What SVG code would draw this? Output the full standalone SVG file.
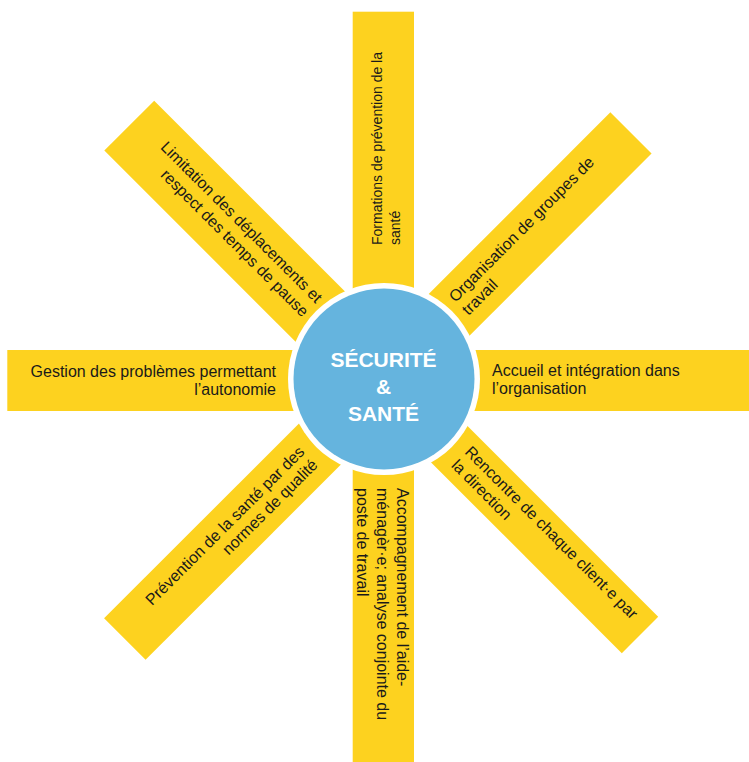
<svg xmlns="http://www.w3.org/2000/svg" width="749" height="762" viewBox="0 0 749 762">
  <style>
    .bar { fill: #FDD21F; }
    .lbl { font-family: "Liberation Sans", Arial, sans-serif; font-size: 16px; fill: #1A1A1A; }
    .end { text-anchor: end; }
    .ring { fill: #FFFFFF; }
    .hub { fill: #65B4DE; }
    .hub-lbl { font-family: "Liberation Sans", Arial, sans-serif; font-size: 21px; font-weight: bold; fill: #FFFFFF; text-anchor: middle; }
  </style>

  <rect width="749" height="762" fill="#FFFFFF"/>

  <!-- Spokes: each one is drawn in a frame centred on the hub, x running along the spoke -->
  <g id="spoke-top" transform="translate(384,380) rotate(-90)">
    <rect class="bar" x="0" y="-31.3" width="368.3" height="61.3"/>
    <text class="lbl" style="font-size:14px"><tspan x="135" y="-2.5">Formations de prévention de la</tspan><tspan x="135" y="16">santé</tspan></text>
  </g>

  <g id="spoke-upper-right" transform="translate(384,380) rotate(-45)">
    <rect class="bar" x="0" y="-29.2" width="349.3" height="58.3"/>
    <text class="lbl"><tspan x="105" y="-4">Organisation de groupes de</tspan><tspan x="105" y="14.5">travail</tspan></text>
  </g>

  <g id="spoke-right" transform="translate(384,380)">
    <rect class="bar" x="0" y="-30" width="366" height="61"/>
    <text class="lbl"><tspan x="108" y="-4.3">Accueil et intégration dans</tspan><tspan x="108" y="14">l’organisation</tspan></text>
  </g>

  <g id="spoke-lower-right" transform="translate(384,380) rotate(45)">
    <rect class="bar" x="0" y="-26.5" width="361.3" height="51.5"/>
    <text class="lbl"><tspan x="108" y="-5">Rencontre de chaque client·e par</tspan><tspan x="108" y="14">la direction</tspan></text>
  </g>

  <g id="spoke-bottom" transform="translate(384,380) rotate(90)">
    <rect class="bar" x="0" y="-30" width="383" height="61.3"/>
    <text class="lbl"><tspan x="108" y="-13">Accompagnement de l’aide-</tspan><tspan x="108" y="7">ménagèr·e; analyse conjointe du</tspan><tspan x="108" y="27">poste de travail</tspan></text>
  </g>

  <g id="spoke-lower-left" transform="translate(384,380) rotate(-45)">
    <rect class="bar" x="-366.5" y="-29.4" width="366.5" height="58.7"/>
    <text class="lbl end"><tspan x="-107" y="-4">Prévention de la santé par des</tspan><tspan x="-107" y="14.5">normes de qualité</tspan></text>
  </g>

  <g id="spoke-left" transform="translate(384,380)">
    <rect class="bar" x="-376.7" y="-30" width="376.7" height="61"/>
    <text class="lbl end"><tspan x="-108" y="-3.5">Gestion des problèmes permettant</tspan><tspan x="-108" y="14.8">l’autonomie</tspan></text>
  </g>

  <g id="spoke-upper-left" transform="translate(384,380) rotate(45)">
    <rect class="bar" x="-360" y="-35" width="360" height="70.5"/>
    <text class="lbl end"><tspan x="-102" y="-5.5">Limitation des déplacements et</tspan><tspan x="-102" y="14">respect des temps de pause</tspan></text>
  </g>

  <!-- Hub: white ring separating the spokes from the blue disc -->
  <g id="hub">
    <circle class="ring" cx="384" cy="379" r="96"/>
    <circle class="hub" cx="384" cy="379" r="90.5"/>
    <text class="hub-lbl"><tspan x="383.5" y="367">SÉCURITÉ</tspan><tspan x="383.5" y="394">&amp;</tspan><tspan x="383.5" y="420.5">SANTÉ</tspan></text>
  </g>
</svg>
